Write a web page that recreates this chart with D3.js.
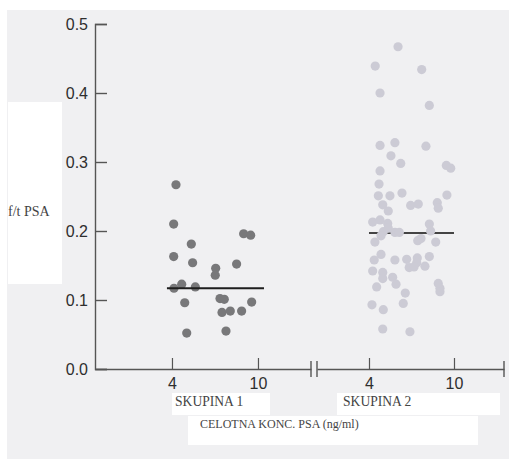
<!DOCTYPE html>
<html>
<head>
<meta charset="utf-8">
<script src="https://cdn.jsdelivr.net/npm/d3@7.9.0/dist/d3.min.js"></script>
<style>
  body { margin: 0; background: #fff; }
  svg { display: block; }
</style>
</head>
<body>
<svg id="chart" width="509" height="459"></svg>
<script>
// group 1 (SKUPINA 1): total PSA vs f/t PSA
const g1Total = [4.28, 4.12, 5.35, 4.12, 5.44, 7.05, 7.02, 8.51, 9.0, 9.49, 4.68, 4.14, 5.63, 4.89, 7.35, 7.65, 9.56, 7.49, 8.07, 8.86, 5.03, 7.77];
const g1Ratio = [0.267, 0.210, 0.181, 0.163, 0.154, 0.146, 0.136, 0.152, 0.196, 0.194, 0.123, 0.117, 0.119, 0.096, 0.102, 0.101, 0.097, 0.082, 0.084, 0.084, 0.052, 0.055];

// group 2 (SKUPINA 2)
const g2Total = [6.05, 4.44, 7.72, 4.78, 8.26, 4.78, 5.83, 8.02, 5.55, 6.24, 9.46, 9.77, 4.78, 4.71, 4.66, 5.48, 6.33, 9.50,
  4.97, 5.36, 6.94, 7.48, 8.82, 8.89, 4.26, 4.78, 5.32, 5.36, 5.01, 4.85, 4.42, 5.83, 6.14, 8.26, 8.35, 7.44, 7.67, 8.71,
  4.85, 4.37, 5.83, 6.66, 7.41, 7.37, 6.84, 7.18, 7.95, 8.26, 4.26, 4.97, 4.97, 5.67, 5.91, 4.54, 8.89, 9.01, 9.01, 6.56,
  4.21, 5.01, 6.42, 4.97, 6.89];
const g2Ratio = [0.467, 0.439, 0.434, 0.400, 0.382, 0.324, 0.328, 0.323, 0.309, 0.298, 0.295, 0.291, 0.287, 0.268, 0.251, 0.251, 0.255, 0.252,
  0.238, 0.229, 0.237, 0.239, 0.241, 0.233, 0.213, 0.216, 0.211, 0.204, 0.199, 0.193, 0.184, 0.198, 0.198, 0.210, 0.200, 0.186, 0.189, 0.184,
  0.166, 0.158, 0.158, 0.159, 0.161, 0.154, 0.147, 0.148, 0.149, 0.163, 0.142, 0.140, 0.131, 0.133, 0.123, 0.119, 0.124, 0.117, 0.112, 0.110,
  0.093, 0.086, 0.095, 0.058, 0.054];

// medians drawn as horizontal bars
const medians = [
  { group: 1, value: 0.117, from: 3.65, to: 10.42 },
  { group: 2, value: 0.197, from: 4, to: 10 }
];

const yTicks = [0, 0.1, 0.2, 0.3, 0.4, 0.5];
const xTicks = [4, 10];
const groupNames = ["SKUPINA 1", "SKUPINA 2"];
const xTitle = "CELOTNA KONC. PSA (ng/ml)";
const yTitle = "f/t PSA";

const svg = d3.select("#chart");

// scanned page look: pale grey paper with white patches behind labels
svg.append("rect").attr("x", 7).attr("y", 10).attr("width", 502).attr("height", 449).attr("fill", "#f0f0f2");
svg.append("rect").attr("x", 8).attr("y", 102).attr("width", 54).attr("height", 182).attr("fill", "#fff");
svg.append("rect").attr("x", 172).attr("y", 393).attr("width", 98).attr("height", 22).attr("fill", "#fff");
svg.append("rect").attr("x", 337).attr("y", 393).attr("width", 163).attr("height", 22).attr("fill", "#fff");
svg.append("rect").attr("x", 188).attr("y", 416).attr("width", 290).attr("height", 29).attr("fill", "#fff");

const y = d3.scaleLinear().domain([0, 0.5]).range([369, 24]);
const x1 = d3.scaleLinear().domain([-1.37, 13.7]).range([95, 311]);
const x2 = d3.scaleLinear().domain([0.33, 13.53]).range([317, 504]);

const axisColor = "#555";

// y axis, ticks pointing inward
const yAxis = svg.append("g")
  .attr("transform", `translate(${x1.range()[0]},0)`)
  .call(d3.axisRight(y).tickValues(yTicks).tickFormat(d3.format(".1f")).tickSize(12));
yAxis.select(".domain").attr("stroke", axisColor).attr("stroke-width", 1.4);
yAxis.selectAll(".tick line").attr("stroke", axisColor).attr("stroke-width", 1.4);
yAxis.selectAll(".tick text")
  .attr("text-anchor", "end").attr("x", -7)
  .attr("font-family", "Liberation Sans, Arial, sans-serif").attr("font-size", 16).attr("fill", "#2e2e2e");

// broken x axis, one segment per group
[x1, x2].forEach((xs, i) => {
  const g = svg.append("g").attr("transform", `translate(0,${y(0)})`);
  g.call(d3.axisTop(xs).tickValues(xTicks).tickSize(11).tickSizeOuter(0));
  g.select(".domain").attr("stroke", axisColor).attr("stroke-width", 1.4);
  g.selectAll(".tick line").attr("stroke", axisColor).attr("stroke-width", 1.2);
  g.selectAll(".tick text")
    .attr("y", 20).attr("dy", 0)
    .attr("font-family", "Liberation Sans, Arial, sans-serif").attr("font-size", 16).attr("fill", "#2e2e2e");
  // break / end bars
  const ends = i === 0 ? [xs.range()[1]] : xs.range();
  ends.forEach(px => {
    g.append("line").attr("x1", px).attr("x2", px).attr("y1", -8).attr("y2", 8)
      .attr("stroke", axisColor).attr("stroke-width", 1.4);
  });
});

// group 2 median sits under its points
const m2 = medians[1];
svg.append("line")
  .attr("x1", x2(m2.from)).attr("x2", x2(m2.to)).attr("y1", y(m2.value)).attr("y2", y(m2.value))
  .attr("stroke", "#444").attr("stroke-width", 2);

svg.append("g").selectAll("circle")
  .data(d3.zip(g2Total, g2Ratio))
  .join("circle")
  .attr("cx", d => x2(d[0]))
  .attr("cy", d => y(d[1]))
  .attr("r", 4.6)
  .attr("fill", "#cccbd5");

svg.append("g").selectAll("circle")
  .data(d3.zip(g1Total, g1Ratio))
  .join("circle")
  .attr("cx", d => x1(d[0]))
  .attr("cy", d => y(d[1]))
  .attr("r", 4.6)
  .attr("fill", "#78787a");

const m1 = medians[0];
svg.append("line")
  .attr("x1", x1(m1.from)).attr("x2", x1(m1.to)).attr("y1", y(m1.value)).attr("y2", y(m1.value))
  .attr("stroke", "#1e1e1e").attr("stroke-width", 1.8);

// labels
const serif = "Liberation Serif, Times New Roman, serif";
svg.append("text").attr("x", 175).attr("y", 406).text(groupNames[0])
  .attr("font-family", serif).attr("font-size", 13.6).attr("fill", "#444");
svg.append("text").attr("x", 343).attr("y", 406).text(groupNames[1])
  .attr("font-family", serif).attr("font-size", 13.6).attr("fill", "#444");
svg.append("text").attr("x", 200).attr("y", 428).text(xTitle)
  .attr("font-family", serif).attr("font-size", 12).attr("fill", "#444");
svg.append("text").attr("x", 8).attr("y", 216).text(yTitle)
  .attr("font-family", serif).attr("font-size", 14).attr("fill", "#444");
</script>
</body>
</html>
